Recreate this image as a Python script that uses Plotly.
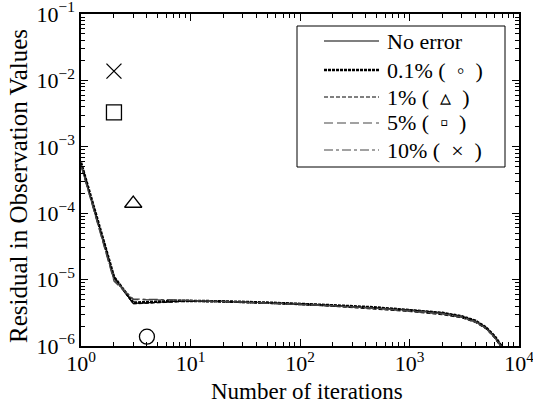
import plotly.graph_objects as go

iterations = [1, 2, 3, 4, 5, 6, 7, 8, 9, 10, 20, 50, 100, 200, 500, 1000, 2000, 3000, 4000, 5000, 6000, 7000, 8000]

res_no_error = [5.6e-4, 1.1e-5, 4.4e-6, 4.5e-6, 4.6e-6, 4.7e-6, 4.75e-6, 4.8e-6, 4.8e-6, 4.8e-6, 4.7e-6, 4.5e-6, 4.35e-6, 4.1e-6, 3.8e-6, 3.5e-6, 3.15e-6, 2.8e-6, 2.4e-6, 1.9e-6, 1.4e-6, 0.97e-6, 5.5e-7]
res_01 = [5.8e-4, 1.1e-5, 4.5e-6, 4.55e-6, 4.65e-6, 4.7e-6, 4.75e-6, 4.8e-6, 4.8e-6, 4.8e-6, 4.7e-6, 4.5e-6, 4.35e-6, 4.1e-6, 3.8e-6, 3.5e-6, 3.15e-6, 2.8e-6, 2.4e-6, 1.9e-6, 1.4e-6, 0.97e-6, 5.5e-7]
res_1 = [5.4e-4, 1.05e-5, 4.3e-6, 4.4e-6, 4.5e-6, 4.6e-6, 4.65e-6, 4.7e-6, 4.7e-6, 4.7e-6, 4.6e-6, 4.4e-6, 4.2e-6, 3.95e-6, 3.6e-6, 3.3e-6, 2.95e-6, 2.65e-6, 2.25e-6, 1.8e-6, 1.3e-6, 0.9e-6, 5.0e-7]
res_5 = [5.2e-4, 9.5e-6, 5.0e-6, 5.0e-6, 5.0e-6, 4.95e-6, 4.9e-6, 4.9e-6, 4.85e-6, 4.8e-6, 4.7e-6, 4.45e-6, 4.25e-6, 4.0e-6, 3.7e-6, 3.4e-6, 3.05e-6, 2.7e-6, 2.3e-6, 1.85e-6, 1.35e-6, 0.93e-6, 5.3e-7]
res_10 = [5.3e-4, 1.0e-5, 5.1e-6, 5.1e-6, 5.05e-6, 5.0e-6, 4.95e-6, 4.9e-6, 4.9e-6, 4.85e-6, 4.7e-6, 4.5e-6, 4.3e-6, 4.05e-6, 3.75e-6, 3.45e-6, 3.1e-6, 2.75e-6, 2.35e-6, 1.85e-6, 1.35e-6, 0.95e-6, 5.3e-7]

series_names = ["No error", "0.1% (  ◦  )", "1% (  ▵  )", "5% (  ▫  )", "10% (  ×  )"]

x_tickvals = [1, 10, 100, 1000, 10000]
x_ticktext = ["10<sup>0</sup>", "10<sup>1</sup>", "10<sup>2</sup>", "10<sup>3</sup>", "10<sup>4</sup>"]
y_tickvals = [1e-6, 1e-5, 1e-4, 1e-3, 1e-2, 1e-1]
y_ticktext = ["10<sup>−6</sup>", "10<sup>−5</sup>", "10<sup>−4</sup>", "10<sup>−3</sup>", "10<sup>−2</sup>", "10<sup>−1</sup>"]

# converged-point markers (iteration, residual)
marker_x = [4, 3, 2, 2]
marker_y = [1.38e-6, 1.4e-4, 3.3e-3, 1.38e-2]
marker_symbols = ["circle-open", "triangle-up-open", "square-open", "x-thin-open"]

styles = [
    dict(color="black", width=1.2, dash="solid"),
    dict(color="black", width=2.6, dash="3px,1px"),
    dict(color="black", width=1.0, dash="4px,2px"),
    dict(color="#444", width=1.2, dash="9px,4px"),
    dict(color="#444", width=1.2, dash="9px,3px,3px,3px"),
]

fig = go.Figure()
for name, ys, st in zip(series_names, [res_no_error, res_01, res_1, res_5, res_10], styles):
    fig.add_trace(go.Scatter(x=iterations, y=ys, mode="lines", name=name, line=st, showlegend=False))

for mx, my, sym in zip(marker_x, marker_y, marker_symbols):
    fig.add_trace(go.Scatter(x=[mx], y=[my], mode="markers", showlegend=False,
                             marker=dict(symbol=sym, size=15, color="black",
                                         line=dict(color="black", width=1.3))))

font = "Liberation Serif, Times New Roman, serif"
minor = dict(ticks="inside", ticklen=4, tickcolor="black", dtick="D1", showgrid=False)
axis_common = dict(type="log", showgrid=False, zeroline=False, showline=True, linecolor="black",
                   linewidth=1.5, mirror="allticks", ticks="inside", ticklen=7, tickcolor="black",
                   tickmode="array", minor=minor, ticklabeloverflow="allow", automargin=False,
                   tickfont=dict(family=font, size=22, color="black"))

# Plot area in pixels: x 81..519, y 14..346
fig.update_layout(
    width=533, height=410,
    margin=dict(l=81, r=14, t=14, b=64, autoexpand=False),
    plot_bgcolor="white", paper_bgcolor="white",
    font=dict(family=font, color="black"),
    showlegend=False,
    xaxis=dict(range=[0, 4], tickvals=x_tickvals, ticktext=x_ticktext, ticklabelstandoff=-3, **axis_common),
    yaxis=dict(range=[-6, -1], tickvals=y_tickvals, ticktext=y_ticktext, **axis_common),
)

# axis titles
fig.add_annotation(text="Number of iterations", xref="paper", yref="paper", x=0.516, y=0,
                   yshift=-45, showarrow=False, yanchor="middle",
                   font=dict(family=font, size=23, color="black"))
fig.add_annotation(text="Residual in Observation Values", xref="paper", yref="paper", x=0,
                   y=0.482, xshift=-62, textangle=-90, showarrow=False, xanchor="center",
                   font=dict(family=font, size=25, color="black"))

# legend (drawn manually to match the boxed legend layout)
def px_x(p):
    return (p - 81) / 438

def px_y(p):
    return (346 - p) / 332

fig.add_shape(type="rect", xref="paper", yref="paper", x0=px_x(297), x1=px_x(505),
              y0=px_y(167), y1=px_y(26), line=dict(color="black", width=1), fillcolor="white", layer="above")
row_y = [41, 70, 97, 123, 150]
for name, st, ry in zip(series_names, styles, row_y):
    fig.add_shape(type="line", xref="paper", yref="paper", x0=px_x(324), x1=px_x(379),
                  y0=px_y(ry), y1=px_y(ry), line=dict(color=st["color"], width=st["width"], dash=st["dash"]),
                  layer="above")
    fig.add_annotation(text=name, xref="paper", yref="paper", x=px_x(385), y=px_y(ry),
                       xanchor="left", yanchor="middle", showarrow=False,
                       font=dict(family=font, size=22, color="black"))

fig.write_html("out.html", config={"displayModeBar": False},
               post_script="document.body.style.margin='0px';")
